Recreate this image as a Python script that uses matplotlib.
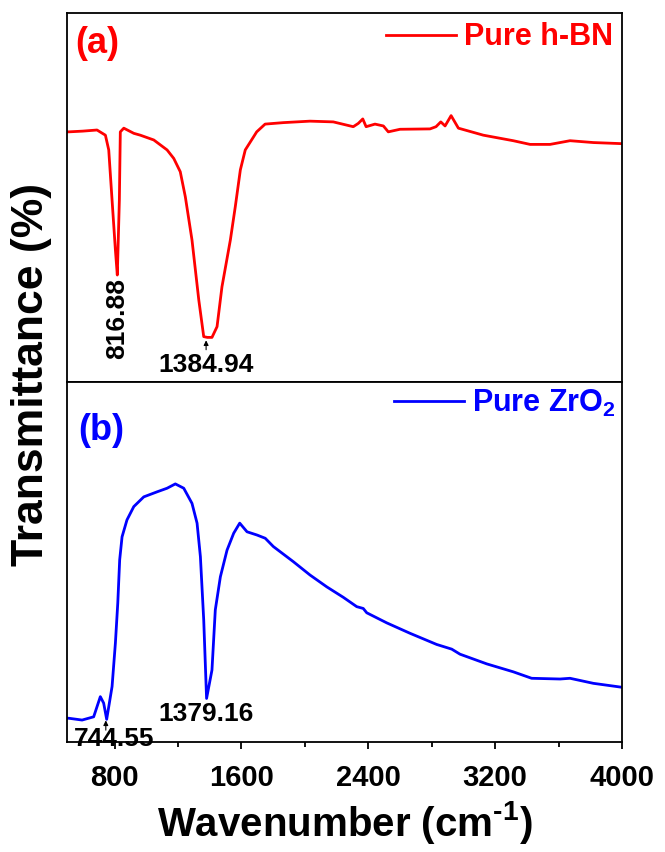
import matplotlib
matplotlib.use('Agg')
import matplotlib.pyplot as plt
from matplotlib.ticker import MultipleLocator

plt.rcParams['font.family'] = ['Liberation Sans', 'DejaVu Sans']
plt.rcParams['font.weight'] = 'bold'
plt.rcParams['mathtext.fontset'] = 'custom'
plt.rcParams['mathtext.rm'] = 'Liberation Sans:bold'
plt.rcParams['mathtext.bf'] = 'Liberation Sans:bold'

# (a) pure h-BN spectrum
bn_wn = [500, 511, 600, 689, 742, 763, 784, 805, 817, 830, 836, 858, 921, 962, 1047,
         1131, 1173, 1214, 1246, 1288, 1331, 1362, 1385, 1414, 1446, 1477, 1530, 1561,
         1593, 1624, 1677, 1696, 1749, 1864, 2032, 2179, 2305, 2337, 2365, 2386, 2442,
         2495, 2526, 2600, 2789, 2827, 2857, 2884, 2922, 2968, 3125, 3314, 3420, 3546,
         3672, 3819, 4000]
bn_t = [67.8, 67.8, 68.0, 68.3, 66.9, 62.9, 49.3, 35.8, 29.0, 49.3, 67.8, 68.8, 67.4,
        66.9, 65.6, 62.9, 60.6, 57.0, 50.2, 38.5, 22.2, 12.3, 12.1, 12.1, 15.0, 25.8,
        38.5, 47.5, 57.5, 62.9, 66.5, 67.8, 69.9, 70.3, 70.7, 70.5, 69.2, 70.1, 71.3,
        69.2, 69.9, 69.4, 67.8, 68.5, 68.6, 69.2, 70.5, 69.4, 72.2, 68.8, 66.9, 65.4,
        64.4, 64.4, 65.4, 64.9, 64.6]

# (b) pure ZrO2 spectrum
zr_wn = [500, 511, 595, 668, 710, 731, 750, 784, 805, 820, 832, 847, 878, 921, 984,
         1068, 1131, 1183, 1236, 1288, 1320, 1341, 1362, 1380, 1414, 1435, 1467, 1509,
         1551, 1589, 1635, 1698, 1750, 1801, 1927, 2032, 2138, 2242, 2327, 2368, 2390,
         2516, 2663, 2831, 2926, 2978, 3147, 3314, 3430, 3609, 3672, 3819, 4000]
zr_t = [6.6, 6.6, 6.1, 7.0, 12.6, 10.8, 6.3, 15.4, 27.5, 38.6, 50.6, 57.0, 61.7, 65.4,
        68.1, 69.5, 70.5, 71.7, 70.5, 66.3, 60.8, 51.5, 33.9, 12.1, 20.0, 36.7, 45.9,
        53.3, 58.0, 60.8, 58.4, 57.5, 56.6, 54.3, 50.1, 46.4, 43.1, 40.2, 37.6, 37.1,
        35.9, 33.1, 30.2, 27.1, 25.8, 24.4, 21.7, 19.5, 17.7, 17.5, 17.7, 16.3, 15.2]

fig = plt.figure(figsize=(6.65, 8.52), dpi=100)
ax1 = fig.add_axes([0.1008, 0.5516, 0.8346, 0.4331])
ax2 = fig.add_axes([0.1008, 0.1291, 0.8346, 0.4225])

ax1.plot(bn_wn, bn_t, color='#ff0000', lw=2.0, label='Pure h-BN')
ax2.plot(zr_wn, zr_t, color='#0000ff', lw=2.0, label=r'Pure ZrO$_{\mathbf{2}}$')

for ax in (ax1, ax2):
    ax.set_xlim(500, 4000)
    ax.set_ylim(0, 100)
    ax.set_yticks([])
    for s in ax.spines.values():
        s.set_linewidth(1.3)
    ax.xaxis.set_major_locator(MultipleLocator(800))
    ax.xaxis.set_minor_locator(MultipleLocator(400))
    ax.tick_params(axis='x', which='major', direction='out', length=5, width=1.3,
                   labelsize=21, pad=11)
    ax.tick_params(axis='x', which='minor', direction='out', length=3.5, width=1.3)

ax1.tick_params(axis='x', which='both', bottom=False, labelbottom=False)

leg1 = ax1.legend(loc='upper right', frameon=False, fontsize=22, handlelength=2.3,
                  handletextpad=0.25, borderaxespad=0.0, borderpad=0.3)
for t in leg1.get_texts():
    t.set_color('#ff0000')
leg2 = ax2.legend(loc='upper right', frameon=False, fontsize=22, handlelength=2.3,
                  handletextpad=0.25, borderaxespad=0.0, borderpad=0.2)
for t in leg2.get_texts():
    t.set_color('#0000ff')

ax1.text(0.015, 0.965, '(a)', transform=ax1.transAxes, color='#ff0000', fontsize=26,
         fontweight='bold', va='top', ha='left')
ax2.text(0.02, 0.915, '(b)', transform=ax2.transAxes, color='#0000ff', fontsize=26,
         fontweight='bold', va='top', ha='left')

# peak labels
arrow = dict(arrowstyle='-|>', color='k', lw=0.8, mutation_scale=7, shrinkA=0, shrinkB=0)
ax1.text(816.88, 28.3, '816.88', rotation=90, ha='center', va='top', fontsize=19)
ax1.annotate('1384.94', xy=(1377, 11.3), xytext=(1377, 8.0), ha='center', va='top',
             fontsize=19, arrowprops=arrow)
ax2.text(1379.16, 11.0, '1379.16', ha='center', va='top', fontsize=19)
ax2.annotate('', xy=(744.55, 6.0), xytext=(744.55, 3.3), arrowprops=arrow)
ax2.text(800, 4.3, '744.55', ha='center', va='top', fontsize=19)

ax2.set_xlabel('Wavenumber (cm$^{\\mathbf{\u20101}}$)', fontsize=29, fontweight='bold',
               labelpad=5)
fig.text(0.047, 0.56, 'Transmittance (%)', rotation=90, ha='center', va='center',
         fontsize=32, fontweight='bold')

fig.savefig('out.png', dpi=100)
